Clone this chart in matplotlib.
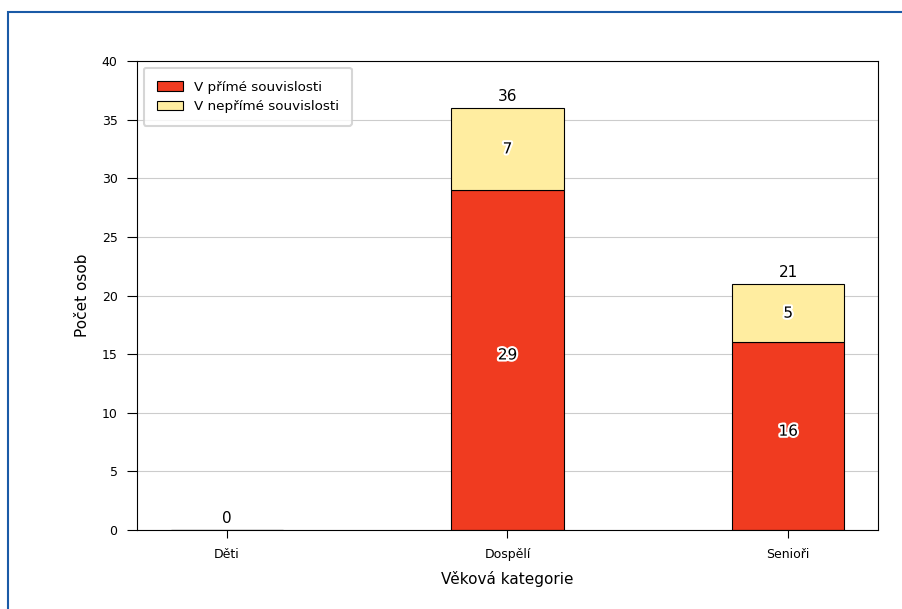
import matplotlib
matplotlib.use("Agg")
import matplotlib.pyplot as plt
import matplotlib.patheffects as pe
from matplotlib.patches import Rectangle

categories = ["Děti", "Dospělí", "Senioři"]
direct = [0, 29, 16]
indirect = [0, 7, 5]
series_labels = ["V přímé souvislosti", "V nepřímé souvislosti"]
colors = ["#F03B20", "#FFEDA0"]

fig = plt.figure(figsize=(9.02, 6.09), dpi=100)
ax = fig.add_axes([137/902, 1-530/609, (878-137)/902, (530-61)/609])

# figure frame (blue)
fig.patches.append(Rectangle((8/902, -0.1), 1.2, (1-12/609)+0.1, transform=fig.transFigure,
                             fill=False, edgecolor="#1a5aa6", linewidth=1.5))

x = list(range(len(categories)))
ax.set_axisbelow(True)
ax.yaxis.grid(True, color="#cccccc", linewidth=0.8)
b1 = ax.bar(x, direct, width=0.4, color=colors[0], edgecolor="black", linewidth=0.8, label=series_labels[0])
b2 = ax.bar(x, indirect, width=0.4, bottom=direct, color=colors[1], edgecolor="black", linewidth=0.8, label=series_labels[1])

stroke = [pe.withStroke(linewidth=3, foreground="white")]
for i in x:
    total = direct[i] + indirect[i]
    if direct[i] > 0:
        ax.annotate(str(direct[i]), (i, direct[i]/2), xytext=(0, 3.6), textcoords="offset points",
                    ha="center", va="center", fontsize=11, color="black", path_effects=stroke)
    if indirect[i] > 0:
        ax.text(i, direct[i] + indirect[i]/2, str(indirect[i]), ha="center", va="center",
                fontsize=11, color="black", path_effects=stroke)
    ax.text(i, total + 0.3, str(total), ha="center", va="bottom", fontsize=11, color="black")

ax.set_ylim(0, 40)
ax.set_xticks(x)
ax.set_xticklabels(categories, fontsize=9)
ax.tick_params(axis="y", labelsize=9, length=7, pad=7)
ax.tick_params(axis="x", length=6, pad=7)
ax.set_xlabel("Věková kategorie", fontsize=11, labelpad=7.5)
ax.set_ylabel("Počet osob", fontsize=11, labelpad=8.5)
leg = ax.legend(loc="upper left", fontsize=9.7, frameon=True, fancybox=True, borderpad=0.95)
leg.get_frame().set_edgecolor("#cccccc")
leg.get_frame().set_linewidth(1.5)

fig.savefig("out.png", dpi=100)
